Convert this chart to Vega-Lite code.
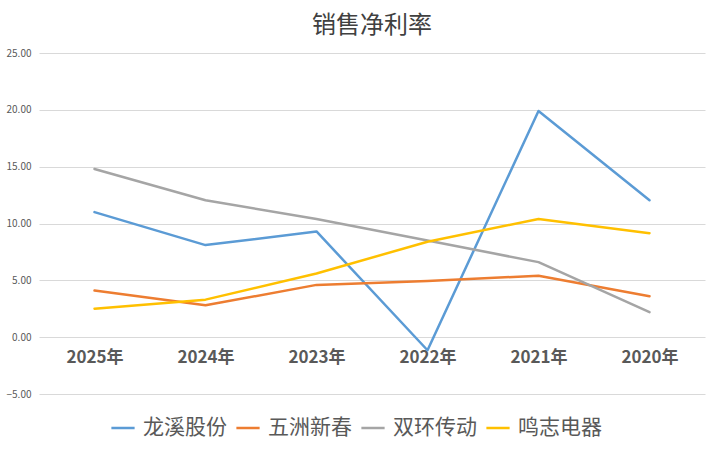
{
  "$schema": "https://vega.github.io/schema/vega-lite/v6.json",
  "autosize": "none",
  "width": 666,
  "height": 341,
  "padding": {"left": 39, "top": 53, "right": 14, "bottom": 60},
  "background": "white",
  "title": {
    "text": "销售净利率",
    "font": "Noto Sans CJK SC",
    "fontSize": 24,
    "fontWeight": "normal",
    "color": "#404040",
    "anchor": "middle",
    "offset": 10
  },
  "config": {
    "view": {"stroke": null},
    "font": "Noto Sans CJK SC"
  },
  "data": {
    "values": [
      {"year": "2025年", "company": "龙溪股份", "value": 11.0},
      {"year": "2024年", "company": "龙溪股份", "value": 8.1},
      {"year": "2023年", "company": "龙溪股份", "value": 9.3},
      {"year": "2022年", "company": "龙溪股份", "value": -1.15},
      {"year": "2021年", "company": "龙溪股份", "value": 19.9},
      {"year": "2020年", "company": "龙溪股份", "value": 12.05},
      {"year": "2025年", "company": "五洲新春", "value": 4.1},
      {"year": "2024年", "company": "五洲新春", "value": 2.8},
      {"year": "2023年", "company": "五洲新春", "value": 4.6},
      {"year": "2022年", "company": "五洲新春", "value": 4.95},
      {"year": "2021年", "company": "五洲新春", "value": 5.4},
      {"year": "2020年", "company": "五洲新春", "value": 3.6},
      {"year": "2025年", "company": "双环传动", "value": 14.8},
      {"year": "2024年", "company": "双环传动", "value": 12.05},
      {"year": "2023年", "company": "双环传动", "value": 10.4},
      {"year": "2022年", "company": "双环传动", "value": 8.5},
      {"year": "2021年", "company": "双环传动", "value": 6.6},
      {"year": "2020年", "company": "双环传动", "value": 2.2},
      {"year": "2025年", "company": "鸣志电器", "value": 2.5},
      {"year": "2024年", "company": "鸣志电器", "value": 3.3},
      {"year": "2023年", "company": "鸣志电器", "value": 5.6},
      {"year": "2022年", "company": "鸣志电器", "value": 8.4},
      {"year": "2021年", "company": "鸣志电器", "value": 10.4},
      {"year": "2020年", "company": "鸣志电器", "value": 9.15}
    ]
  },
  "mark": {"type": "line", "strokeWidth": 2.5, "strokeCap": "round", "strokeJoin": "round"},
  "encoding": {
    "x": {
      "field": "year",
      "type": "ordinal",
      "sort": ["2025年", "2024年", "2023年", "2022年", "2021年", "2020年"],
      "scale": {"type": "point", "padding": 0.5},
      "axis": {
        "title": null,
        "domain": false,
        "ticks": false,
        "grid": false,
        "labelAngle": 0,
        "labelFont": "Noto Sans CJK SC",
        "labelFontSize": 17,
        "labelFontWeight": "bold",
        "labelColor": "#595959",
        "offset": -57,
        "labelPadding": 12
      }
    },
    "y": {
      "field": "value",
      "type": "quantitative",
      "scale": {"domain": [-5, 25], "nice": false, "zero": false},
      "axis": {
        "title": null,
        "values": [-5, 0, 5, 10, 15, 20, 25],
        "format": ".2f",
        "domain": false,
        "ticks": false,
        "gridColor": "#d9d9d9",
        "gridWidth": 1,
        "labelFontSize": 10,
        "labelColor": "#595959",
        "labelPadding": 8
      }
    },
    "color": {
      "field": "company",
      "type": "nominal",
      "sort": ["龙溪股份", "五洲新春", "双环传动", "鸣志电器"],
      "scale": {
        "domain": ["龙溪股份", "五洲新春", "双环传动", "鸣志电器"],
        "range": ["#5B9BD5", "#ED7D31", "#A5A5A5", "#FFC000"]
      },
      "legend": {
        "title": null,
        "orient": "none",
        "legendX": 71,
        "legendY": 362,
        "direction": "horizontal",
        "symbolType": "stroke",
        "symbolStrokeWidth": 2.5,
        "symbolSize": 540,
        "labelFontSize": 21,
        "labelOffset": 7,
        "labelColor": "#595959",
        "labelLimit": 200,
        "columnPadding": 4
      }
    }
  }
}
